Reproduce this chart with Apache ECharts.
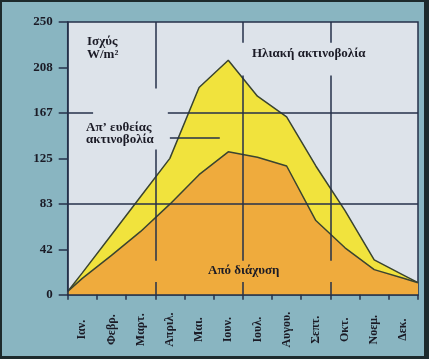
<!DOCTYPE html>
<html><head><meta charset="utf-8">
<script src="https://cdn.jsdelivr.net/npm/echarts@6.0.0/dist/echarts.min.js"></script>
<style>
html,body{margin:0;padding:0;background:#1d2a2c;width:429px;height:359px;overflow:hidden}
#c{position:absolute;left:2px;top:2px;width:422px;height:354px}
</style>
</head><body><div id="c"></div>
<script>
// ---- data ----
const months = ['Ιαν.','Φεβρ.','Μαρτ.','Απριλ.','Μαι.','Ιουν.','Ιουλ.','Αυγου.','Σεπτ.','Οκτ.','Νοεμ.','Δεκ.'];
const yTicks = [0, 42, 83, 125, 167, 208, 250];
// position along the year: 0 = start of January, 12 = end of December (month centres at .5)
const monthPos = [0, 0.5, 1.5, 2.5, 3.5, 4.5, 5.5, 6.5, 7.5, 8.5, 9.5, 10.5, 11.5, 12];
const solarTotal = [3, 20, 55, 90, 125, 190, 215, 182, 163, 118, 77, 32, 18, 11];
const diffuse    = [3, 15, 36, 58, 83, 110, 131, 126, 118, 68, 43, 23, 15, 11];

const SERIF = '"Liberation Serif", "DejaVu Serif", serif';
const GRID_C = '#25304a';
const EDGE_C = '#3a4430';
const TXT_C = '#1b1b26';

const pairs = (xs, ys) => xs.map((x, i) => [x, ys[i]]);

// decorative grid segments (in axis units)
const step = 250 / 6;
const seg = (x1, y1, x2, y2) => [{coord: [x1, y1]}, {coord: [x2, y2]}];
const gridLines = [
  seg(3, 0, 3, 11.7), seg(3, 31.2, 3, 133), seg(3, 189, 3, 250),
  seg(6, 0, 6, 11.7), seg(6, 31.2, 6, 201), seg(6, 231, 6, 250),
  seg(9, 0, 9, 11.7), seg(9, 31.2, 9, 201), seg(9, 231, 9, 250),
  seg(0, 2 * step, 12, 2 * step),
  seg(0, 4 * step, 0.87, 4 * step), seg(3.43, 4 * step, 12, 4 * step),
  seg(3.5, 143.6, 5.21, 143.6)
];

const chart = echarts.init(document.getElementById('c'), null, {renderer: 'canvas'});
chart.setOption({
  animation: false,
  backgroundColor: '#89b5c1',
  grid: {left: 65.7, right: 6, top: 20, bottom: 61.3, show: true,
         backgroundColor: '#dde3ea', borderColor: GRID_C, borderWidth: 1.5},
  xAxis: [
    {type: 'category', data: months, boundaryGap: true, position: 'bottom', z: 10,
     axisLine: {show: true, lineStyle: {color: GRID_C, width: 1.5}},
     axisTick: {show: true, length: 5, lineStyle: {color: GRID_C, width: 1.5}},
     axisLabel: {rotate: 90, align: 'center', verticalAlign: 'middle', margin: 35,
                 fontFamily: SERIF, fontWeight: 'bold', fontSize: 12, color: TXT_C},
     splitLine: {show: false}},
    {type: 'value', min: 0, max: 12, show: false}
  ],
  yAxis: {type: 'value', min: 0, max: 250, interval: step, z: 10,
    axisLine: {show: true, lineStyle: {color: GRID_C, width: 1.5}},
    axisTick: {show: true, length: 9, lineStyle: {color: GRID_C, width: 1.5}},
    axisLabel: {margin: 15, fontFamily: SERIF, fontWeight: 'bold', fontSize: 13, color: TXT_C,
                formatter: v => String(yTicks[Math.round(v / step)])},
    splitLine: {show: false}},
  series: [
    {name: 'Ηλιακή ακτινοβολία', type: 'line', xAxisIndex: 1, data: pairs(monthPos, solarTotal),
     showSymbol: false, lineStyle: {color: EDGE_C, width: 1.5},
     areaStyle: {color: '#f1e33d', opacity: 1}, z: 2},
    {name: 'Από διάχυση', type: 'line', xAxisIndex: 1, data: pairs(monthPos, diffuse),
     showSymbol: false, lineStyle: {color: EDGE_C, width: 1.5},
     areaStyle: {color: '#efab3d', opacity: 1}, z: 3},
    {name: 'grid', type: 'line', xAxisIndex: 1, data: [], z: 5, silent: true,
     markLine: {silent: true, symbol: 'none', label: {show: false},
       lineStyle: {color: GRID_C, width: 1.5, type: 'solid'}, data: gridLines}}
  ],
  graphic: [
    {type: 'text', x: 85, y: 33.5, z: 20,
     style: {text: 'Ισχύς\nW/m²', font: 'bold 13px ' + SERIF, fill: TXT_C, lineHeight: 13, verticalAlign: 'top'}},
    {type: 'text', x: 84, y: 119, z: 20,
     style: {text: 'Απ’ ευθείας\nακτινοβολία', font: 'bold 13px ' + SERIF, fill: TXT_C, lineHeight: 12.7, verticalAlign: 'top'}},
    {type: 'text', x: 250, y: 51.5, z: 20,
     style: {text: 'Ηλιακή ακτινοβολία', font: 'bold 13px ' + SERIF, fill: TXT_C, verticalAlign: 'middle'}},
    {type: 'text', x: 206, y: 269, z: 20,
     style: {text: 'Από διάχυση', font: 'bold 13px ' + SERIF, fill: TXT_C, verticalAlign: 'middle'}}
  ]
});
</script>
</body></html>
